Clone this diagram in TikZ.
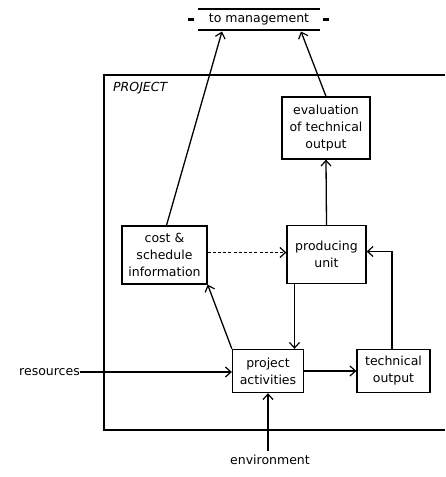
\documentclass[tikz,border=0pt]{standalone}
\usepackage{fontspec}
\setmainfont{DejaVu Sans}
\usetikzlibrary{arrows.meta,calc}
\begin{document}
\begin{tikzpicture}[x=1pt,y=-1pt,
  every node/.style={font=\fontsize{12.5}{17}\selectfont, inner sep=0pt},
  boxnode/.style={draw, line width=1.3pt, align=center},
  conn/.style={line width=1.3pt},
  arr/.style={conn, -{Straight Barb[length=5.5pt,width=10pt,line width=1.2pt]}},
  bar/.style={line width=2.4pt}]
\useasboundingbox (0,0) rectangle (445,477);

% to management
\node (mgmt) [minimum width=122pt, minimum height=21pt] at (259,19.5) {to management};
\draw[bar] (mgmt.north west) -- (mgmt.north east);
\draw[bar] (mgmt.south west) -- (mgmt.south east);
\draw[line width=2.2pt] ($(mgmt.west)+(-10,0)$) -- ($(mgmt.west)+(-4,0)$);
\draw[line width=2.2pt] ($(mgmt.east)+(3,0)$) -- ($(mgmt.east)+(9,0)$);
\coordinate (m1) at (222,31.5);
\coordinate (m2) at (301,31.5);

% project frame
\draw[line width=1.3pt] (445,75) -- (104,75) -- (104,430) -- (445,430);
\node (proj) [anchor=west, font=\fontsize{12.5}{15}\selectfont\itshape] at (113,88) {PROJECT};

% boxes
\node (eval) [boxnode, minimum width=88pt, minimum height=62pt] at (326,128)
  {evaluation\\of technical\\output};
\node (cost) [boxnode, minimum width=85pt, minimum height=58pt] at (164.5,255)
  {cost \&\\schedule\\information};
\node (prod) [boxnode, minimum width=79pt, minimum height=58pt] at (326.5,254.5)
  {producing\\unit};
\node (act) [boxnode, minimum width=71pt, minimum height=43pt] at (268,371)
  {project\\activities};
\node (tech) [boxnode, minimum width=73pt, minimum height=43pt] at (393.5,371)
  {technical\\output};
\node (res) [anchor=east] at (80,372) {resources};
\node (env) at (270,460) {environment};

% connectors
\draw[arr] ([xshift=2pt]cost.north) -- (m1);
\draw[arr] (eval.north) -- (m2);
\draw[arr] (prod.north) -- (eval.south);
\draw[arr, dash pattern=on 3pt off 2.2pt] ([yshift=2.5pt]cost.east) -- ([yshift=2.5pt]cost.east -| prod.west);
\draw[arr] ([xshift=-32pt]prod.south) -- ([xshift=-32pt]prod.south |- act.north);
\draw[arr] (act.north west) -- (cost.south east);
\draw[arr] (res.east) -- (res.east -| act.west);
\draw[arr] (act.east) -- (tech.west);
\draw[arr] ([xshift=-1.5pt]tech.north) |- ([yshift=3pt]prod.east);
\draw[arr] (act.south |- env.north) ++(0,-4) -- (act.south);
\end{tikzpicture}
\end{document}
